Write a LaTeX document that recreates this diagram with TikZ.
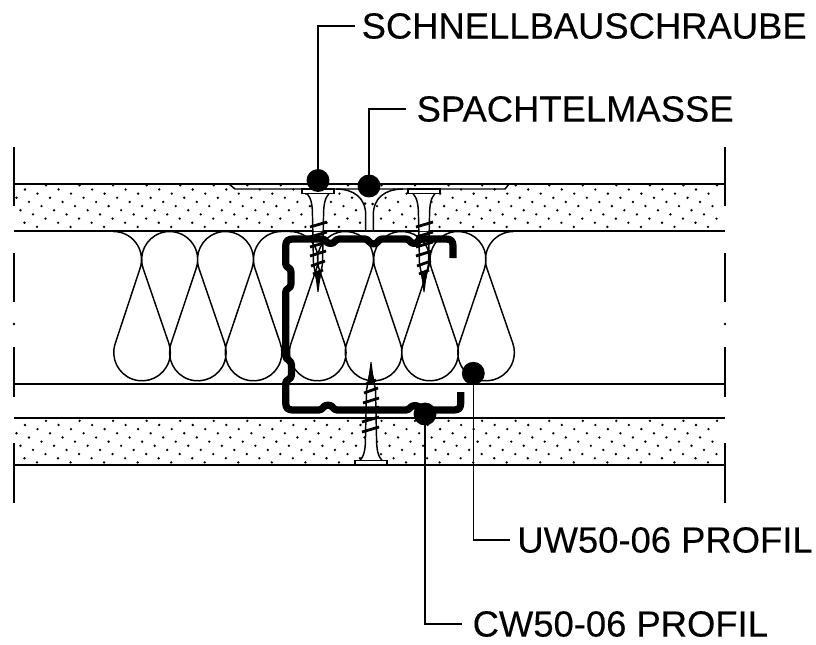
\documentclass[tikz,border=0pt]{standalone}
\usepackage{fontspec}
\setmainfont{Liberation Sans}
\usetikzlibrary{positioning}

\tikzset{
    plateline/.style={line width=1.4pt},
    endtick/.style={line width=1.4pt},
    battline/.style={line width=1.1pt, line join=round},
    profileline/.style={line width=5.4pt, line join=round},
    screwline/.style={line width=1.1pt},
    threadline/.style={line width=2.1pt},
    leaderline/.style={line width=1.1pt},
    leaderdot/.style={circle, fill=black, inner sep=0pt, minimum size=17.2pt},
    calloutlabel/.style={anchor=west, inner sep=0pt, outer sep=5pt, font=\fontsize{27.3}{32}\selectfont\addfontfeature{FakeBold=0.2}},
}

% one board: 11 rows of dots, first row at height #1
\newcommand{\boarddots}[1]{
    \foreach \r in {0,...,10} {
        \pgfmathsetmacro{\xstart}{13+mod(33+12.5*\r,33.5)}
        \pgfmathsetmacro{\yrow}{#1+4.16*\r}
        \foreach \k in {0,...,20} {
            \fill ({\xstart+33.55*\k},\yrow) circle (1.3);
        }
    }
}

% screw: x, y of the head, rotation
\newcommand{\drawscrew}[3]{
    \begin{scope}[shift={(#1,#2)},rotate=#3]
        \fill[white] (-11,4.5) .. controls (-7,9) and (-5.5,15) .. (-5.5,28) -- (-5.5,42) -- (5.5,42) -- (5.5,28) .. controls (5.5,15) and (7,9) .. (11,4.5) -- cycle;
        \draw[screwline,fill=white] (-16,0) rectangle (16,4.5);
        \draw[screwline] (-11,4.5) .. controls (-7,9) and (-5.5,15) .. (-5.5,28) -- (-4.5,75) -- (-1.5,90);
        \draw[screwline] (11,4.5) .. controls (7,9) and (5.5,15) .. (5.5,28) -- (4.5,75) -- (1.5,90);
        \fill (-3,84) -- (3,84) -- (0.5,103) -- (-0.5,103) -- cycle;
        \draw[threadline] (-8,38) -- (9,33);
        \draw[threadline] (-8,48) -- (9,43);
        \draw[threadline] (-8,58) -- (9,53);
        \draw[threadline] (-8,67) -- (8,62);
        \draw[threadline] (-7,77) -- (7,72);
        \draw[threadline] (-5,85) -- (5,81);
    \end{scope}
}

\begin{document}
\begin{tikzpicture}[x=0.75pt,y=0.75pt,yscale=-1,xscale=1]
    \useasboundingbox (0,0) rectangle (816,644);

    % Board dots
    \begin{scope}
        \clip (12,180) rectangle (727,470);
        \boarddots{185.3}
        \boarddots{420.8}
    \end{scope}

    % Joint
    \fill[white] (336,189) .. controls (354,189) and (365.7,198) .. (365.7,215) -- (365.7,231) -- (373.3,231) -- (373.3,215) .. controls (373.3,198) and (385,189) .. (403,189) -- cycle;
    \fill (365,203.5) circle (1.5);
    \fill (372.7,204) circle (1.5);

    % Board lines
    \draw[plateline] (14,184) -- (725,184);
    \draw[plateline] (14,231) -- (725,231);
    \draw[plateline] (14,384) -- (725,384);
    \draw[plateline] (14,418) -- (725,418);
    \draw[plateline] (14,465) -- (725,465);
    \draw[screwline] (229,184) -- (235,189) -- (505,189) -- (509,184);
    \draw[screwline] (336,189) .. controls (354,189) and (365.7,198) .. (365.7,215) -- (365.7,231);
    \draw[screwline] (373.3,231) -- (373.3,215) .. controls (373.3,198) and (385,189) .. (403,189);

    % End ticks
    \foreach \xend in {14,725} {
        \draw[endtick] (\xend,147) -- (\xend,206);
        \draw[endtick] (\xend,253) -- (\xend,302);
        \fill (\xend,324) circle (1.3);
        \draw[endtick] (\xend,347) -- (\xend,397);
        \draw[endtick] (\xend,443) -- (\xend,503);
    }

    % Insulation
    \draw[battline] (113.5,231.5) arc (270:379:28)
        foreach \lo/\up in {142/169.7,197.8/225.5} { -- ({\lo-26.7},343.3) arc (199:-19:28.3) -- ({\up-26.5},268.6) arc (161:379:28) }
        -- (226.8,343.3) arc (199:-19:28.3) -- (255,268.6) arc (161:270:28) -- (290,231.5) arc (270:379:28)
        foreach \lo/\up in {317.7/345.5,373.5/401.7,430/458} { -- ({\lo-26.7},343.3) arc (199:-19:28.3) -- ({\up-26.5},268.6) arc (161:379:28) }
        -- (459.3,343.3) arc (199:-19:28.3) -- (487,268.6) arc (161:270:28);

    % Profile
    \draw[profileline] (453,258) -- (453,246) .. controls (453,241) and (451,239) .. (446,239) -- (422,239) .. controls (418,239) and (418,243.5) .. (414,243.5) .. controls (410,243.5) and (410,239) .. (406,239) -- (382,239) .. controls (378,239) and (378,244) .. (373.5,244) .. controls (369,244) and (369,239) .. (365,239) -- (339,239) .. controls (335,239) and (335,243.5) .. (330.5,243.5) .. controls (326,243.5) and (326,239) .. (322,239) -- (293,239) .. controls (288,239) and (285.7,241) .. (285.7,246) -- (285.7,264) .. controls (285.7,268) and (291,267) .. (291,272) -- (291,284) .. controls (291,289) and (285.7,288) .. (285.7,292) -- (285.7,356) .. controls (285.7,360) and (291.5,360) .. (291.5,365) -- (291.5,375) .. controls (291.5,380) and (285.7,379) .. (285.7,383) -- (285.7,403) .. controls (285.7,408) and (288,410) .. (293,410) -- (319,410) .. controls (323,410) and (323,405) .. (328,405) .. controls (333,405) and (333,410) .. (337,410) -- (406,410) .. controls (410,410) and (410,405.5) .. (415,405.5) .. controls (420,405.5) and (420,410) .. (424,410) -- (454,410) .. controls (459,410) and (460.7,408) .. (460.7,403) -- (460.7,392);

    % Screws
    \drawscrew{318}{189}{0}
    \drawscrew{424}{189}{0}
    \drawscrew{371}{465}{180}

    % Text Node
    \draw (355,26) node (screwlabel) [calloutlabel] {SCHNELLBAUSCHRAUBE};
    % Text Node
    \draw (406,109) node (fillerlabel) [calloutlabel, outer sep=8pt] {SPACHTELMASSE};
    % Text Node
    \draw (510,540) node (uwlabel) [calloutlabel, outer sep=5.5pt] {UW50-06 PROFIL};
    % Text Node
    \draw (462,624) node (cwlabel) [calloutlabel, outer sep=8pt] {CW50-06 PROFIL};

    % Callout dots
    \node (screwdot) [leaderdot] at (318,180.5) {};
    \node (fillerdot) [leaderdot] at (369,186) {};
    \node (uwdot) [leaderdot] at (473.3,373.3) {};
    \node (cwdot) [leaderdot] at (425,414) {};

    % Leaders
    \draw[leaderline] (screwdot.center) |- (screwlabel.west);
    \draw[leaderline] (fillerdot.center) |- (fillerlabel.west);
    \draw[leaderline] (uwdot.center) |- (uwlabel.west);
    \draw[leaderline] (cwdot.center) |- (cwlabel.west);
\end{tikzpicture}
\end{document}
